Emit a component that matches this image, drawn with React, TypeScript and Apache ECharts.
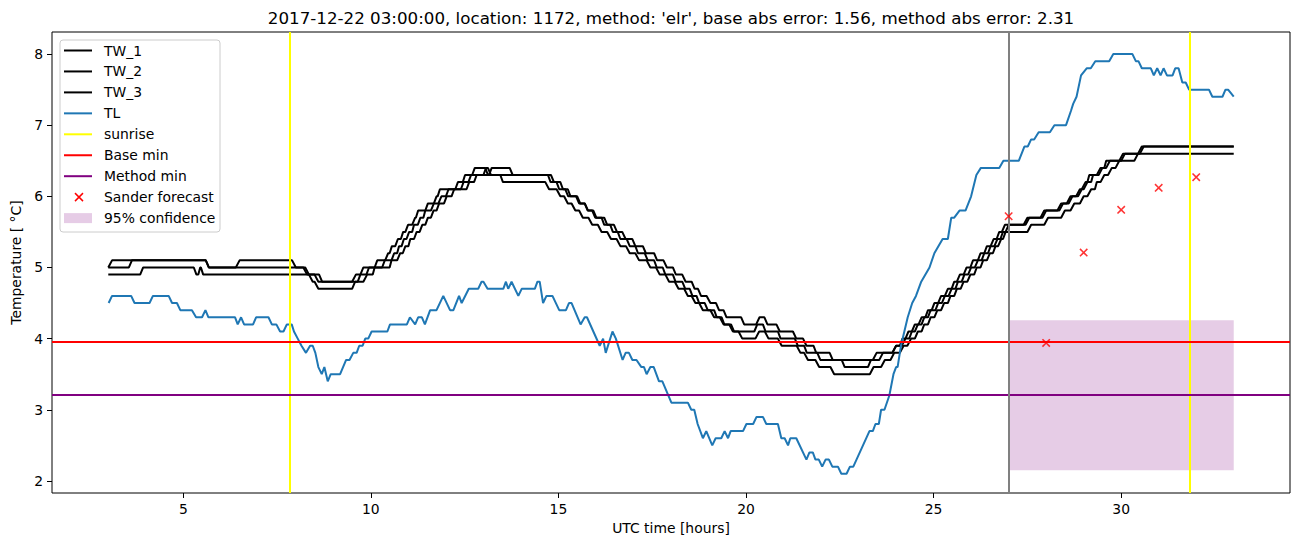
import React, { useEffect, useRef } from 'react';
import * as echarts from 'echarts';

const TITLE = "2017-12-22 03:00:00, location: 1172, method: 'elr', base abs error: 1.56, method abs error: 2.31";
const X_NAME = 'UTC time [hours]';
const Y_NAME = 'Temperature [ °C]';
const X_TICKS = [5, 10, 15, 20, 25, 30];
const Y_TICKS = [2, 3, 4, 5, 6, 7, 8];
const X_RANGE = [1.5, 34.5];
const Y_RANGE = [1.83, 8.31];

const SUNRISE = [7.85, 31.82];
const FORECAST_START = 27;
const BASE_MIN = 3.96;
const METHOD_MIN = 3.21;
const SANDER_HOURS = [27, 28, 29, 30, 31, 32];
const SANDER_VALUES = [5.72, 3.94, 5.21, 5.81, 6.12, 6.27];
const CONF_X = [27, 33];
const CONF_Y = [2.15, 4.26];

// TL: [hour, temperature] vertices
const TL: number[][] = [
  [3.01, 4.5], [3.10, 4.6], [3.61, 4.6], [3.70, 4.5], [4.10, 4.5], [4.19, 4.6], [4.61, 4.6], [4.70, 4.5],
  [4.83, 4.5], [4.92, 4.4], [5.23, 4.4], [5.34, 4.3], [5.50, 4.3], [5.59, 4.4], [5.67, 4.3], [6.38, 4.3],
  [6.45, 4.2], [6.54, 4.3], [6.62, 4.2], [6.86, 4.2], [6.94, 4.3], [7.27, 4.3], [7.36, 4.2], [7.48, 4.2],
  [7.58, 4.1], [7.67, 4.1], [7.76, 4.2], [7.89, 4.2], [7.95, 4.1], [8.05, 4.0], [8.15, 3.9], [8.27, 3.8],
  [8.38, 3.9], [8.45, 3.9], [8.52, 3.8], [8.60, 3.6], [8.69, 3.5], [8.76, 3.6], [8.85, 3.4], [8.93, 3.5],
  [9.18, 3.5], [9.34, 3.7], [9.43, 3.7], [9.53, 3.8], [9.62, 3.8], [9.69, 3.9], [9.78, 3.9], [9.85, 4.0],
  [9.93, 4.0], [10.02, 4.1], [10.44, 4.1], [10.51, 4.2], [10.96, 4.2], [11.04, 4.3], [11.18, 4.2], [11.26, 4.3],
  [11.36, 4.3], [11.44, 4.2], [11.58, 4.4], [11.75, 4.4], [11.93, 4.6], [12.11, 4.4], [12.20, 4.4], [12.35, 4.6],
  [12.42, 4.5], [12.61, 4.7], [12.86, 4.7], [12.95, 4.8], [13.0, 4.8], [13.11, 4.7], [13.53, 4.7], [13.60, 4.8],
  [13.66, 4.7], [13.75, 4.8], [13.93, 4.6], [14.02, 4.7], [14.37, 4.7], [14.44, 4.8], [14.50, 4.8], [14.59, 4.5],
  [14.68, 4.6], [14.84, 4.6], [15.02, 4.4], [15.20, 4.4], [15.28, 4.5], [15.35, 4.5], [15.59, 4.2], [15.70, 4.3],
  [15.76, 4.3], [16.10, 3.9], [16.19, 4.0], [16.26, 3.8], [16.44, 4.1], [16.53, 4.0], [16.71, 3.7], [16.79, 3.8],
  [16.88, 3.8], [16.97, 3.7], [17.08, 3.7], [17.21, 3.6], [17.28, 3.6], [17.35, 3.5], [17.45, 3.6], [17.54, 3.6],
  [17.68, 3.4], [17.77, 3.4], [18.01, 3.1], [18.45, 3.1], [18.54, 3.0], [18.62, 3.0], [18.71, 2.8], [18.85, 2.6],
  [18.94, 2.7], [19.10, 2.5], [19.19, 2.6], [19.34, 2.6], [19.43, 2.7], [19.52, 2.6], [19.59, 2.7], [19.92, 2.7],
  [20.01, 2.8], [20.19, 2.8], [20.28, 2.9], [20.45, 2.9], [20.54, 2.8], [20.85, 2.8], [20.94, 2.6], [21.03, 2.6],
  [21.12, 2.5], [21.18, 2.6], [21.34, 2.6], [21.61, 2.3], [21.69, 2.4], [21.78, 2.4], [21.85, 2.3], [21.94, 2.3],
  [22.03, 2.2], [22.12, 2.3], [22.21, 2.3], [22.30, 2.2], [22.45, 2.2], [22.54, 2.1], [22.68, 2.1], [22.77, 2.2],
  [22.86, 2.2], [23.29, 2.7], [23.38, 2.7], [23.45, 2.8], [23.54, 2.8], [23.60, 3.0], [23.69, 3.0], [23.82, 3.2],
  [23.93, 3.5], [24.00, 3.6], [24.04, 3.6], [24.13, 3.9], [24.22, 4.1], [24.31, 4.3], [24.43, 4.5], [24.53, 4.6],
  [24.67, 4.8], [24.89, 5.0], [25.02, 5.2], [25.24, 5.4], [25.38, 5.4], [25.47, 5.7], [25.55, 5.7], [25.69, 5.8],
  [25.85, 5.8], [26.00, 6.0], [26.14, 6.3], [26.26, 6.4], [26.75, 6.4], [26.86, 6.5], [27.27, 6.5], [27.42, 6.7],
  [27.51, 6.7], [27.60, 6.8], [27.68, 6.8], [27.80, 6.9], [28.10, 6.9], [28.22, 7.0], [28.53, 7.0], [28.66, 7.2],
  [28.72, 7.3], [28.81, 7.4], [28.93, 7.7], [29.08, 7.8], [29.19, 7.8], [29.31, 7.9], [29.68, 7.9], [29.79, 8.0],
  [30.30, 8.0], [30.39, 7.9], [30.46, 7.9], [30.55, 7.8], [30.79, 7.8], [30.87, 7.7], [30.96, 7.8], [31.05, 7.7],
  [31.13, 7.8], [31.22, 7.7], [31.37, 7.7], [31.44, 7.8], [31.53, 7.8], [31.63, 7.6], [31.72, 7.6], [31.81, 7.5],
  [32.34, 7.5], [32.43, 7.4], [32.70, 7.4], [32.78, 7.5], [32.85, 7.5], [33.0, 7.4],
];

// TW sensors: plateaus [start hour, end hour, temperature]
const TW_1_STEPS: number[][] = [
  [3.0, 3.0, 5.0], [3.1, 5.6, 5.1], [5.68, 6.4, 5.0], [6.5, 7.9, 5.1], [8.0, 8.25, 5.0], [8.35, 8.5, 4.9],
  [8.6, 9.5, 4.8], [9.6, 9.72, 4.9], [9.8, 10.1, 5.0], [10.17, 10.38, 5.1], [10.46, 10.5, 5.2], [10.56, 10.65, 5.3],
  [10.72, 10.8, 5.4], [10.86, 10.92, 5.5], [10.99, 11.1, 5.6], [11.18, 11.2, 5.7], [11.26, 11.45, 5.8],
  [11.52, 11.68, 5.9], [11.75, 11.78, 6.0], [11.84, 12.25, 6.1], [12.32, 12.45, 6.2], [12.51, 12.7, 6.3],
  [12.77, 13.05, 6.4], [13.12, 13.15, 6.3], [13.22, 13.7, 6.4], [13.78, 14.72, 6.3], [14.79, 14.95, 6.2],
  [15.02, 15.18, 6.1], [15.26, 15.47, 6.0], [15.55, 15.7, 5.9], [15.79, 15.93, 5.8], [16.01, 16.22, 5.7],
  [16.3, 16.48, 5.6], [16.56, 16.7, 5.5], [16.79, 16.97, 5.4], [17.05, 17.25, 5.3], [17.33, 17.55, 5.2],
  [17.63, 17.8, 5.1], [17.89, 18.05, 5.0], [18.13, 18.3, 4.9], [18.39, 18.55, 4.8], [18.63, 18.72, 4.7],
  [18.8, 18.95, 4.6], [19.05, 19.2, 4.5], [19.28, 19.4, 4.4], [19.48, 19.87, 4.3], [19.95, 20.27, 4.2],
  [20.36, 20.49, 4.3], [20.57, 20.81, 4.2], [20.9, 21.25, 4.1], [21.34, 21.52, 4.0], [21.61, 21.8, 3.9],
  [21.87, 22.23, 3.8], [22.31, 23.38, 3.7], [23.48, 23.9, 3.8], [24.0, 24.1, 3.9], [24.17, 24.25, 4.0],
  [24.33, 24.42, 4.1], [24.5, 24.6, 4.2], [24.68, 24.78, 4.3], [24.85, 24.95, 4.4], [25.02, 25.12, 4.5],
  [25.2, 25.3, 4.6], [25.38, 25.48, 4.7], [25.55, 25.62, 4.8], [25.7, 25.8, 4.9], [25.88, 25.98, 5.0],
  [26.05, 26.18, 5.1], [26.25, 26.35, 5.2], [26.42, 26.52, 5.3], [26.6, 26.68, 5.4], [26.75, 26.82, 5.5],
  [26.9, 27.4, 5.6], [27.5, 27.85, 5.7], [27.95, 28.3, 5.8], [28.4, 28.55, 5.9], [28.65, 28.8, 6.0],
  [28.9, 28.95, 6.1], [29.05, 29.1, 6.2], [29.15, 29.35, 6.3], [29.45, 29.55, 6.4], [29.6, 29.95, 6.5],
  [30.05, 30.45, 6.6], [30.55, 33.0, 6.7],
];

const TW_2_STEPS: number[][] = [
  [3.0, 3.55, 5.0], [3.63, 5.6, 5.1], [5.68, 8.2, 5.0], [8.3, 8.62, 4.9], [8.7, 9.65, 4.8], [9.72, 9.88, 4.9],
  [9.95, 10.3, 5.0], [10.37, 10.55, 5.1], [10.62, 10.7, 5.2], [10.75, 10.82, 5.3], [10.88, 10.95, 5.4],
  [11.02, 11.1, 5.5], [11.15, 11.25, 5.6], [11.32, 11.4, 5.7], [11.45, 11.6, 5.8], [11.68, 11.8, 5.9],
  [11.88, 12.0, 6.0], [12.07, 12.4, 6.1], [12.47, 12.6, 6.2], [12.67, 13.0, 6.3], [13.07, 13.12, 6.4],
  [13.2, 14.8, 6.3], [14.88, 15.05, 6.2], [15.12, 15.25, 6.1], [15.32, 15.5, 6.0], [15.58, 15.7, 5.9],
  [15.78, 15.9, 5.8], [15.98, 16.15, 5.7], [16.22, 16.38, 5.6], [16.45, 16.58, 5.5], [16.65, 16.82, 5.4],
  [16.9, 17.05, 5.3], [17.12, 17.3, 5.2], [17.38, 17.55, 5.1], [17.62, 17.78, 5.0], [17.85, 18.05, 4.9],
  [18.12, 18.3, 4.8], [18.38, 18.5, 4.7], [18.57, 18.68, 4.6], [18.75, 18.9, 4.5], [18.98, 19.15, 4.4],
  [19.22, 19.35, 4.3], [19.42, 19.6, 4.2], [19.68, 20.22, 4.1], [20.3, 20.45, 4.2], [20.52, 20.85, 4.1],
  [20.92, 21.3, 4.0], [21.38, 21.55, 3.9], [21.62, 21.9, 3.8], [21.98, 22.55, 3.7], [22.63, 23.25, 3.6],
  [23.33, 23.55, 3.7], [23.65, 23.9, 3.8], [24.0, 24.15, 3.9], [24.25, 24.35, 4.0], [24.42, 24.5, 4.1],
  [24.58, 24.68, 4.2], [24.75, 24.85, 4.3], [24.92, 25.05, 4.4], [25.12, 25.22, 4.5], [25.3, 25.4, 4.6],
  [25.48, 25.58, 4.7], [25.65, 25.75, 4.8], [25.82, 25.92, 4.9], [26.0, 26.1, 5.0], [26.18, 26.28, 5.1],
  [26.35, 26.45, 5.2], [26.52, 26.62, 5.3], [26.7, 26.78, 5.4], [26.85, 26.92, 5.5], [27.0, 27.45, 5.6],
  [27.55, 27.9, 5.7], [28.0, 28.35, 5.8], [28.45, 28.6, 5.9], [28.7, 28.85, 6.0], [28.95, 29.0, 6.1],
  [29.1, 29.2, 6.2], [29.25, 29.4, 6.3], [29.5, 29.6, 6.4], [29.7, 30.0, 6.5], [30.1, 30.5, 6.6], [30.6, 33.0, 6.7],
];

const TW_3_STEPS: number[][] = [
  [3.0, 3.85, 4.9], [3.93, 5.28, 5.0], [5.35, 5.4, 4.9], [5.45, 5.47, 5.0], [5.53, 8.35, 4.9], [8.45, 8.5, 4.8],
  [8.6, 9.5, 4.7], [9.58, 9.8, 4.8], [9.9, 10.05, 4.9], [10.1, 10.5, 5.0], [10.55, 10.7, 5.1], [10.78, 10.85, 5.2],
  [10.92, 11.0, 5.3], [11.05, 11.15, 5.4], [11.22, 11.3, 5.5], [11.37, 11.45, 5.6], [11.52, 11.6, 5.7],
  [11.67, 11.75, 5.8], [11.82, 11.95, 5.9], [12.02, 12.15, 6.0], [12.22, 12.55, 6.1], [12.62, 12.75, 6.2],
  [12.82, 13.45, 6.3], [13.52, 14.65, 6.2], [14.75, 14.95, 6.1], [15.05, 15.15, 6.0], [15.25, 15.35, 5.9],
  [15.45, 15.55, 5.8], [15.65, 15.8, 5.7], [15.9, 16.05, 5.6], [16.15, 16.3, 5.5], [16.4, 16.55, 5.4],
  [16.65, 16.8, 5.3], [16.9, 17.05, 5.2], [17.15, 17.35, 5.1], [17.45, 17.6, 5.0], [17.7, 17.85, 4.9],
  [17.95, 18.1, 4.8], [18.2, 18.35, 4.7], [18.45, 18.55, 4.6], [18.65, 18.75, 4.5], [18.85, 19.05, 4.4],
  [19.15, 19.3, 4.3], [19.4, 19.55, 4.2], [19.65, 19.8, 4.1], [19.9, 20.25, 4.0], [20.35, 20.5, 4.1],
  [20.6, 20.85, 4.0], [20.95, 21.35, 3.9], [21.45, 21.55, 3.8], [21.65, 21.85, 3.7], [21.95, 22.25, 3.6],
  [22.35, 23.3, 3.5], [23.4, 23.6, 3.6], [23.7, 23.85, 3.7], [23.95, 24.1, 3.8], [24.2, 24.3, 3.9],
  [24.4, 24.5, 4.0], [24.58, 24.68, 4.1], [24.75, 24.85, 4.2], [24.92, 25.02, 4.3], [25.1, 25.2, 4.4],
  [25.28, 25.38, 4.5], [25.45, 25.55, 4.6], [25.62, 25.72, 4.7], [25.8, 25.9, 4.8], [25.98, 26.08, 4.9],
  [26.15, 26.25, 5.0], [26.32, 26.42, 5.1], [26.5, 26.58, 5.2], [26.65, 26.72, 5.3], [26.8, 26.85, 5.4],
  [26.92, 27.5, 5.5], [27.6, 27.95, 5.6], [28.05, 28.4, 5.7], [28.5, 28.65, 5.8], [28.75, 28.9, 5.9],
  [29.0, 29.1, 6.0], [29.2, 29.3, 6.1], [29.35, 29.45, 6.2], [29.55, 29.65, 6.3], [29.75, 29.85, 6.4],
  [29.95, 30.35, 6.5], [30.45, 33.0, 6.6],
];

const LEGEND_ITEMS = [
  { name: 'TW_1', kind: 'line', color: '#000000' },
  { name: 'TW_2', kind: 'line', color: '#000000' },
  { name: 'TW_3', kind: 'line', color: '#000000' },
  { name: 'TL', kind: 'line', color: '#1f77b4' },
  { name: 'sunrise', kind: 'line', color: '#ffff00' },
  { name: 'Base min', kind: 'line', color: '#ff0000' },
  { name: 'Method min', kind: 'line', color: '#800080' },
  { name: 'Sander forecast', kind: 'x', color: '#ff0000' },
  { name: '95% confidence', kind: 'patch', color: 'rgba(128,0,128,0.2)' },
];

const FONT = "'DejaVu Sans', sans-serif";
const X_MARK = 'path://M0,1.3L1.3,0L5,3.7L8.7,0L10,1.3L6.3,5L10,8.7L8.7,10L5,6.3L1.3,10L0,8.7L3.7,5Z';

function stepsToPoints(steps: number[][]): number[][] {
  const pts: number[][] = [];
  steps.forEach(([a, b, v]) => {
    pts.push([a, v]);
    if (b !== a) pts.push([b, v]);
  });
  return pts;
}

function buildLegend(): any[] {
  const els: any[] = [];
  const x0 = 60, y0 = 40, w = 160, h = 192;
  els.push({
    type: 'rect', shape: { x: x0, y: y0, width: w, height: h, r: 3 },
    style: { fill: 'rgba(255,255,255,0.8)', stroke: '#cccccc', lineWidth: 1 }, z: 100,
  });
  LEGEND_ITEMS.forEach((it, i) => {
    const cy = 50.5 + i * 20.95;
    if (it.kind === 'line') {
      els.push({ type: 'line', shape: { x1: 64, y1: cy, x2: 92, y2: cy }, style: { stroke: it.color, lineWidth: 2 }, z: 101 });
    } else if (it.kind === 'x') {
      els.push({ type: 'line', shape: { x1: 75, y1: cy - 4, x2: 83, y2: cy + 4 }, style: { stroke: it.color, lineWidth: 1.5 }, z: 101 });
      els.push({ type: 'line', shape: { x1: 75, y1: cy + 4, x2: 83, y2: cy - 4 }, style: { stroke: it.color, lineWidth: 1.5 }, z: 101 });
    } else {
      els.push({ type: 'rect', shape: { x: 64, y: cy - 5, width: 28, height: 10 }, style: { fill: it.color }, z: 101 });
    }
    els.push({
      type: 'text', x: 104, y: cy, z: 101,
      style: { text: it.name, fontSize: 13.9, fontFamily: FONT, fill: '#000', textAlign: 'left', textVerticalAlign: 'middle' },
    });
  });
  return els;
}

export default function App() {
  const ref = useRef<HTMLDivElement>(null);
  useEffect(() => {
    document.body.style.margin = '0';
    const chart = echarts.init(ref.current!, null, { renderer: 'svg' });
    const lineSeries = (name: string, data: number[][], color: string) => ({
      name, type: 'line', data, symbol: 'none', showSymbol: false,
      lineStyle: { color, width: 2 }, itemStyle: { color }, silent: true, z: 2,
    });
    const tlSeries: any = lineSeries('TL', TL, '#1f77b4');
    tlSeries.markArea = {
      silent: true, itemStyle: { color: 'rgba(128,0,128,0.2)' },
      data: [[{ xAxis: CONF_X[0], yAxis: CONF_Y[0] }, { xAxis: CONF_X[1], yAxis: CONF_Y[1] }]],
    };
    tlSeries.markLine = {
      silent: true, symbol: ['none', 'none'], label: { show: false },
      data: [
        { xAxis: SUNRISE[0], lineStyle: { color: '#ffff00', width: 2, type: 'solid' } },
        { xAxis: SUNRISE[1], lineStyle: { color: '#ffff00', width: 2, type: 'solid' } },
        { yAxis: BASE_MIN, lineStyle: { color: '#ff0000', width: 2, type: 'solid' } },
        { yAxis: METHOD_MIN, lineStyle: { color: '#800080', width: 2, type: 'solid' } },
        { xAxis: FORECAST_START, lineStyle: { color: '#808080', width: 2, type: 'solid' } },
      ],
    };
    const option: any = {
      animation: false,
      backgroundColor: '#ffffff',
      textStyle: { fontFamily: FONT },
      grid: { left: 52, right: 12, top: 32, bottom: 54, show: true, borderColor: '#000', borderWidth: 1, backgroundColor: 'transparent' },
      xAxis: {
        type: 'value', min: X_RANGE[0], max: X_RANGE[1],
        axisLine: { show: false },
        axisTick: { show: true, length: 5, customValues: X_TICKS, lineStyle: { color: '#000' } },
        axisLabel: { customValues: X_TICKS, color: '#000', fontSize: 13.9, fontFamily: FONT, margin: 9 },
        splitLine: { show: false },
        name: X_NAME, nameLocation: 'middle', nameGap: 28,
        nameTextStyle: { color: '#000', fontSize: 13.9, fontFamily: FONT },
      },
      yAxis: {
        type: 'value', min: Y_RANGE[0], max: Y_RANGE[1],
        axisLine: { show: false },
        axisTick: { show: true, length: 5, customValues: Y_TICKS, lineStyle: { color: '#000' } },
        axisLabel: { customValues: Y_TICKS, color: '#000', fontSize: 13.9, fontFamily: FONT, margin: 9 },
        splitLine: { show: false },
        name: Y_NAME, nameLocation: 'middle', nameGap: 26,
        nameTextStyle: { color: '#000', fontSize: 13.9, fontFamily: FONT },
      },
      series: [
        lineSeries('TW_1', stepsToPoints(TW_1_STEPS), '#000000'),
        lineSeries('TW_2', stepsToPoints(TW_2_STEPS), '#000000'),
        lineSeries('TW_3', stepsToPoints(TW_3_STEPS), '#000000'),
        tlSeries,
        {
          name: 'Sander forecast', type: 'scatter', silent: true, z: 5,
          data: SANDER_HOURS.map((h, i) => [h, SANDER_VALUES[i]]),
          symbol: X_MARK, symbolSize: 8.5, itemStyle: { color: '#ff0000' },
        },
      ],
      graphic: [
        {
          type: 'text', x: 671, y: 18, z: 100,
          style: { text: TITLE, fontSize: 16.7, fontFamily: FONT, fill: '#000', textAlign: 'center', textVerticalAlign: 'middle' },
        },
        ...buildLegend(),
      ],
    };
    chart.setOption(option);
    return () => chart.dispose();
  }, []);
  return <div ref={ref} style={{ width: 1302, height: 547, overflow: 'hidden' }} />;
}
